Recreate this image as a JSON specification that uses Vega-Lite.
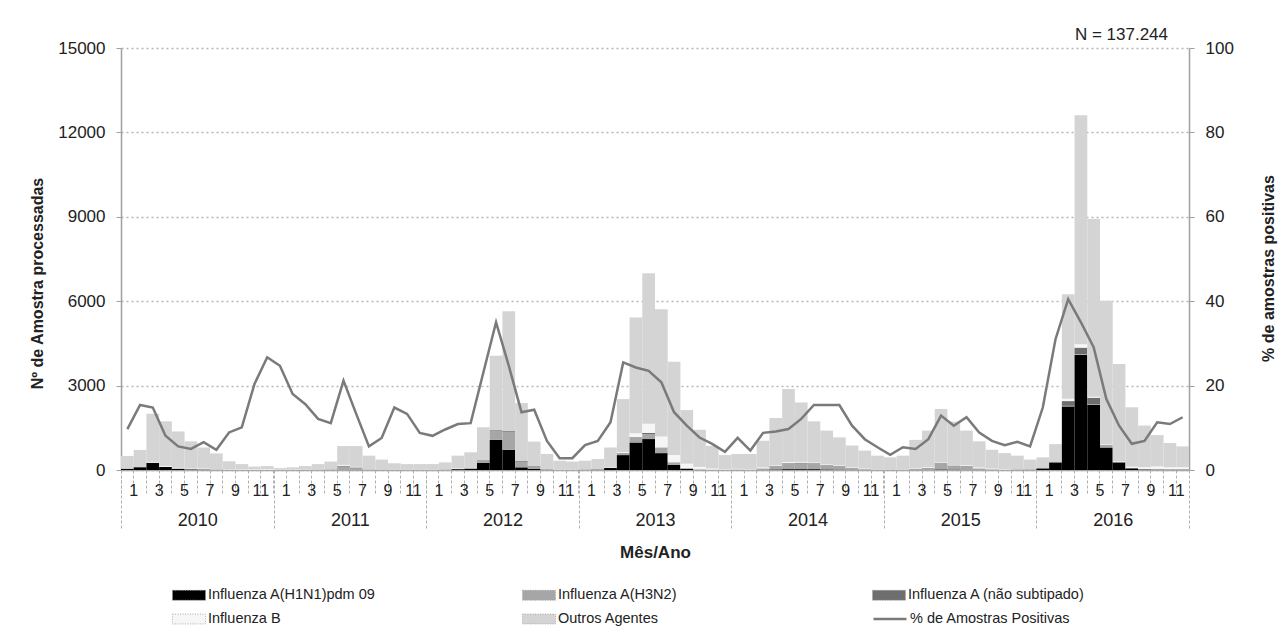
{
  "$schema": "https://vega.github.io/schema/vega-lite/v6.json",
  "width": 1068,
  "height": 422,
  "autosize": {"type": "none"},
  "padding": {"left": 121, "top": 48, "right": 96, "bottom": 172},
  "background": "white",
  "title": {"text": "N = 137.244", "anchor": "end", "frame": "group", "fontSize": 17, "fontWeight": "normal", "color": "#222222", "dx": -21, "dy": 30, "offset": 12, "baseline": "alphabetic"},
  "data": {"values": [
    {"mes": "2010-01", "ano": 2010, "a_h1n1": 45, "b_h3n2": 0, "c_anst": 0, "d_b": 0, "e_outros": 455, "pct": 9.7},
    {"mes": "2010-02", "ano": 2010, "a_h1n1": 100, "b_h3n2": 0, "c_anst": 0, "d_b": 0, "e_outros": 610, "pct": 15.4},
    {"mes": "2010-03", "ano": 2010, "a_h1n1": 260, "b_h3n2": 0, "c_anst": 0, "d_b": 30, "e_outros": 1710, "pct": 14.8},
    {"mes": "2010-04", "ano": 2010, "a_h1n1": 110, "b_h3n2": 0, "c_anst": 0, "d_b": 30, "e_outros": 1590, "pct": 8.1},
    {"mes": "2010-05", "ano": 2010, "a_h1n1": 50, "b_h3n2": 0, "c_anst": 0, "d_b": 27, "e_outros": 1293, "pct": 5.6},
    {"mes": "2010-06", "ano": 2010, "a_h1n1": 25, "b_h3n2": 0, "c_anst": 0, "d_b": 26, "e_outros": 969, "pct": 5.0},
    {"mes": "2010-07", "ano": 2010, "a_h1n1": 20, "b_h3n2": 0, "c_anst": 0, "d_b": 33, "e_outros": 747, "pct": 6.6},
    {"mes": "2010-08", "ano": 2010, "a_h1n1": 10, "b_h3n2": 0, "c_anst": 0, "d_b": 18, "e_outros": 562, "pct": 4.8},
    {"mes": "2010-09", "ano": 2010, "a_h1n1": 5, "b_h3n2": 0, "c_anst": 0, "d_b": 22, "e_outros": 283, "pct": 8.9},
    {"mes": "2010-10", "ano": 2010, "a_h1n1": 0, "b_h3n2": 0, "c_anst": 0, "d_b": 21, "e_outros": 189, "pct": 10.1},
    {"mes": "2010-11", "ano": 2010, "a_h1n1": 0, "b_h3n2": 0, "c_anst": 0, "d_b": 24, "e_outros": 96, "pct": 20.4},
    {"mes": "2010-12", "ano": 2010, "a_h1n1": 0, "b_h3n2": 10, "c_anst": 0, "d_b": 27, "e_outros": 103, "pct": 26.7},
    {"mes": "2011-01", "ano": 2011, "a_h1n1": 0, "b_h3n2": 0, "c_anst": 0, "d_b": 17, "e_outros": 53, "pct": 24.7},
    {"mes": "2011-02", "ano": 2011, "a_h1n1": 0, "b_h3n2": 0, "c_anst": 0, "d_b": 17, "e_outros": 78, "pct": 18.0},
    {"mes": "2011-03", "ano": 2011, "a_h1n1": 0, "b_h3n2": 10, "c_anst": 0, "d_b": 12, "e_outros": 118, "pct": 15.6},
    {"mes": "2011-04", "ano": 2011, "a_h1n1": 0, "b_h3n2": 15, "c_anst": 0, "d_b": 10, "e_outros": 185, "pct": 12.1},
    {"mes": "2011-05", "ano": 2011, "a_h1n1": 0, "b_h3n2": 25, "c_anst": 0, "d_b": 8, "e_outros": 267, "pct": 11.1},
    {"mes": "2011-06", "ano": 2011, "a_h1n1": 0, "b_h3n2": 120, "c_anst": 30, "d_b": 30, "e_outros": 670, "pct": 21.2},
    {"mes": "2011-07", "ano": 2011, "a_h1n1": 0, "b_h3n2": 80, "c_anst": 15, "d_b": 18, "e_outros": 737, "pct": 13.3},
    {"mes": "2011-08", "ano": 2011, "a_h1n1": 0, "b_h3n2": 20, "c_anst": 0, "d_b": 8, "e_outros": 482, "pct": 5.6},
    {"mes": "2011-09", "ano": 2011, "a_h1n1": 0, "b_h3n2": 18, "c_anst": 0, "d_b": 10, "e_outros": 342, "pct": 7.6},
    {"mes": "2011-10", "ano": 2011, "a_h1n1": 0, "b_h3n2": 20, "c_anst": 0, "d_b": 16, "e_outros": 204, "pct": 14.8},
    {"mes": "2011-11", "ano": 2011, "a_h1n1": 0, "b_h3n2": 15, "c_anst": 0, "d_b": 13, "e_outros": 182, "pct": 13.3},
    {"mes": "2011-12", "ano": 2011, "a_h1n1": 0, "b_h3n2": 8, "c_anst": 0, "d_b": 10, "e_outros": 192, "pct": 8.8},
    {"mes": "2012-01", "ano": 2012, "a_h1n1": 0, "b_h3n2": 5, "c_anst": 0, "d_b": 12, "e_outros": 193, "pct": 8.1},
    {"mes": "2012-02", "ano": 2012, "a_h1n1": 10, "b_h3n2": 0, "c_anst": 0, "d_b": 16, "e_outros": 244, "pct": 9.6},
    {"mes": "2012-03", "ano": 2012, "a_h1n1": 30, "b_h3n2": 10, "c_anst": 0, "d_b": 16, "e_outros": 454, "pct": 10.9},
    {"mes": "2012-04", "ano": 2012, "a_h1n1": 50, "b_h3n2": 10, "c_anst": 0, "d_b": 10, "e_outros": 560, "pct": 11.1},
    {"mes": "2012-05", "ano": 2012, "a_h1n1": 260, "b_h3n2": 70, "c_anst": 20, "d_b": 0, "e_outros": 1170, "pct": 23.1},
    {"mes": "2012-06", "ano": 2012, "a_h1n1": 1070, "b_h3n2": 330, "c_anst": 20, "d_b": 0, "e_outros": 2640, "pct": 35.0},
    {"mes": "2012-07", "ano": 2012, "a_h1n1": 720, "b_h3n2": 640, "c_anst": 30, "d_b": 0, "e_outros": 4250, "pct": 24.7},
    {"mes": "2012-08", "ano": 2012, "a_h1n1": 95, "b_h3n2": 200, "c_anst": 30, "d_b": 0, "e_outros": 2055, "pct": 13.7},
    {"mes": "2012-09", "ano": 2012, "a_h1n1": 35, "b_h3n2": 90, "c_anst": 20, "d_b": 0, "e_outros": 865, "pct": 14.3},
    {"mes": "2012-10", "ano": 2012, "a_h1n1": 10, "b_h3n2": 20, "c_anst": 0, "d_b": 10, "e_outros": 530, "pct": 6.9},
    {"mes": "2012-11", "ano": 2012, "a_h1n1": 0, "b_h3n2": 0, "c_anst": 0, "d_b": 9, "e_outros": 321, "pct": 2.8},
    {"mes": "2012-12", "ano": 2012, "a_h1n1": 0, "b_h3n2": 0, "c_anst": 0, "d_b": 8, "e_outros": 292, "pct": 2.8},
    {"mes": "2013-01", "ano": 2013, "a_h1n1": 10, "b_h3n2": 0, "c_anst": 0, "d_b": 10, "e_outros": 310, "pct": 5.9},
    {"mes": "2013-02", "ano": 2013, "a_h1n1": 17, "b_h3n2": 0, "c_anst": 0, "d_b": 10, "e_outros": 363, "pct": 6.9},
    {"mes": "2013-03", "ano": 2013, "a_h1n1": 70, "b_h3n2": 10, "c_anst": 0, "d_b": 10, "e_outros": 710, "pct": 11.3},
    {"mes": "2013-04", "ano": 2013, "a_h1n1": 530, "b_h3n2": 60, "c_anst": 20, "d_b": 30, "e_outros": 1880, "pct": 25.5},
    {"mes": "2013-05", "ano": 2013, "a_h1n1": 980, "b_h3n2": 150, "c_anst": 30, "d_b": 150, "e_outros": 4110, "pct": 24.3},
    {"mes": "2013-06", "ano": 2013, "a_h1n1": 1100, "b_h3n2": 180, "c_anst": 40, "d_b": 320, "e_outros": 5350, "pct": 23.5},
    {"mes": "2013-07", "ano": 2013, "a_h1n1": 600, "b_h3n2": 170, "c_anst": 30, "d_b": 390, "e_outros": 4520, "pct": 20.8},
    {"mes": "2013-08", "ano": 2013, "a_h1n1": 180, "b_h3n2": 70, "c_anst": 20, "d_b": 260, "e_outros": 3320, "pct": 13.7},
    {"mes": "2013-09", "ano": 2013, "a_h1n1": 45, "b_h3n2": 20, "c_anst": 0, "d_b": 160, "e_outros": 1905, "pct": 10.5},
    {"mes": "2013-10", "ano": 2013, "a_h1n1": 10, "b_h3n2": 10, "c_anst": 0, "d_b": 90, "e_outros": 1320, "pct": 7.7},
    {"mes": "2013-11", "ano": 2013, "a_h1n1": 5, "b_h3n2": 5, "c_anst": 0, "d_b": 43, "e_outros": 807, "pct": 6.2},
    {"mes": "2013-12", "ano": 2013, "a_h1n1": 0, "b_h3n2": 5, "c_anst": 0, "d_b": 18, "e_outros": 507, "pct": 4.3},
    {"mes": "2014-01", "ano": 2014, "a_h1n1": 0, "b_h3n2": 20, "c_anst": 0, "d_b": 23, "e_outros": 527, "pct": 7.6},
    {"mes": "2014-02", "ano": 2014, "a_h1n1": 0, "b_h3n2": 10, "c_anst": 0, "d_b": 16, "e_outros": 544, "pct": 4.6},
    {"mes": "2014-03", "ano": 2014, "a_h1n1": 10, "b_h3n2": 50, "c_anst": 0, "d_b": 31, "e_outros": 949, "pct": 8.8},
    {"mes": "2014-04", "ano": 2014, "a_h1n1": 20, "b_h3n2": 110, "c_anst": 20, "d_b": 20, "e_outros": 1680, "pct": 9.1},
    {"mes": "2014-05", "ano": 2014, "a_h1n1": 30, "b_h3n2": 180, "c_anst": 30, "d_b": 40, "e_outros": 2600, "pct": 9.7},
    {"mes": "2014-06", "ano": 2014, "a_h1n1": 30, "b_h3n2": 200, "c_anst": 30, "d_b": 30, "e_outros": 2110, "pct": 12.1},
    {"mes": "2014-07", "ano": 2014, "a_h1n1": 30, "b_h3n2": 180, "c_anst": 30, "d_b": 25, "e_outros": 1465, "pct": 15.4},
    {"mes": "2014-08", "ano": 2014, "a_h1n1": 20, "b_h3n2": 150, "c_anst": 20, "d_b": 25, "e_outros": 1185, "pct": 15.4},
    {"mes": "2014-09", "ano": 2014, "a_h1n1": 15, "b_h3n2": 120, "c_anst": 20, "d_b": 24, "e_outros": 981, "pct": 15.4},
    {"mes": "2014-10", "ano": 2014, "a_h1n1": 10, "b_h3n2": 60, "c_anst": 0, "d_b": 21, "e_outros": 779, "pct": 10.5},
    {"mes": "2014-11", "ano": 2014, "a_h1n1": 0, "b_h3n2": 30, "c_anst": 0, "d_b": 20, "e_outros": 640, "pct": 7.3},
    {"mes": "2014-12", "ano": 2014, "a_h1n1": 0, "b_h3n2": 15, "c_anst": 0, "d_b": 13, "e_outros": 482, "pct": 5.4},
    {"mes": "2015-01", "ano": 2015, "a_h1n1": 0, "b_h3n2": 10, "c_anst": 0, "d_b": 6, "e_outros": 434, "pct": 3.6},
    {"mes": "2015-02", "ano": 2015, "a_h1n1": 0, "b_h3n2": 15, "c_anst": 0, "d_b": 13, "e_outros": 482, "pct": 5.4},
    {"mes": "2015-03", "ano": 2015, "a_h1n1": 0, "b_h3n2": 35, "c_anst": 0, "d_b": 18, "e_outros": 1017, "pct": 5.0},
    {"mes": "2015-04", "ano": 2015, "a_h1n1": 0, "b_h3n2": 80, "c_anst": 0, "d_b": 22, "e_outros": 1298, "pct": 7.3},
    {"mes": "2015-05", "ano": 2015, "a_h1n1": 20, "b_h3n2": 220, "c_anst": 20, "d_b": 20, "e_outros": 1890, "pct": 12.9},
    {"mes": "2015-06", "ano": 2015, "a_h1n1": 15, "b_h3n2": 140, "c_anst": 10, "d_b": 15, "e_outros": 1540, "pct": 10.5},
    {"mes": "2015-07", "ano": 2015, "a_h1n1": 10, "b_h3n2": 130, "c_anst": 10, "d_b": 25, "e_outros": 1225, "pct": 12.5},
    {"mes": "2015-08", "ano": 2015, "a_h1n1": 0, "b_h3n2": 60, "c_anst": 0, "d_b": 31, "e_outros": 929, "pct": 8.9},
    {"mes": "2015-09", "ano": 2015, "a_h1n1": 0, "b_h3n2": 25, "c_anst": 0, "d_b": 25, "e_outros": 670, "pct": 6.9},
    {"mes": "2015-10", "ano": 2015, "a_h1n1": 0, "b_h3n2": 15, "c_anst": 0, "d_b": 20, "e_outros": 565, "pct": 5.9},
    {"mes": "2015-11", "ano": 2015, "a_h1n1": 10, "b_h3n2": 10, "c_anst": 0, "d_b": 15, "e_outros": 475, "pct": 6.7},
    {"mes": "2015-12", "ano": 2015, "a_h1n1": 10, "b_h3n2": 5, "c_anst": 0, "d_b": 6, "e_outros": 349, "pct": 5.6},
    {"mes": "2016-01", "ano": 2016, "a_h1n1": 60, "b_h3n2": 0, "c_anst": 0, "d_b": 7, "e_outros": 383, "pct": 14.8},
    {"mes": "2016-02", "ano": 2016, "a_h1n1": 270, "b_h3n2": 0, "c_anst": 10, "d_b": 5, "e_outros": 635, "pct": 31.0},
    {"mes": "2016-03", "ano": 2016, "a_h1n1": 2260, "b_h3n2": 20, "c_anst": 170, "d_b": 80, "e_outros": 3720, "pct": 40.5},
    {"mes": "2016-04", "ano": 2016, "a_h1n1": 4090, "b_h3n2": 30, "c_anst": 230, "d_b": 120, "e_outros": 8140, "pct": 35.0},
    {"mes": "2016-05", "ano": 2016, "a_h1n1": 2320, "b_h3n2": 20, "c_anst": 230, "d_b": 30, "e_outros": 6320, "pct": 29.1},
    {"mes": "2016-06", "ano": 2016, "a_h1n1": 800, "b_h3n2": 40, "c_anst": 40, "d_b": 30, "e_outros": 5110, "pct": 16.8},
    {"mes": "2016-07", "ano": 2016, "a_h1n1": 270, "b_h3n2": 30, "c_anst": 0, "d_b": 20, "e_outros": 3450, "pct": 10.5},
    {"mes": "2016-08", "ano": 2016, "a_h1n1": 60, "b_h3n2": 20, "c_anst": 0, "d_b": 40, "e_outros": 2110, "pct": 6.2},
    {"mes": "2016-09", "ano": 2016, "a_h1n1": 20, "b_h3n2": 20, "c_anst": 0, "d_b": 60, "e_outros": 1480, "pct": 6.9},
    {"mes": "2016-10", "ano": 2016, "a_h1n1": 10, "b_h3n2": 30, "c_anst": 0, "d_b": 90, "e_outros": 1110, "pct": 11.3},
    {"mes": "2016-11", "ano": 2016, "a_h1n1": 10, "b_h3n2": 20, "c_anst": 0, "d_b": 70, "e_outros": 860, "pct": 10.9},
    {"mes": "2016-12", "ano": 2016, "a_h1n1": 10, "b_h3n2": 20, "c_anst": 0, "d_b": 70, "e_outros": 740, "pct": 12.5}
  ]},
  "layer": [
    {
      "transform": [{"fold": ["a_h1n1", "b_h3n2", "c_anst", "d_b", "e_outros"], "as": ["tipo", "n"]}],
      "mark": {"type": "bar", "width": {"band": 1}},
      "encoding": {
        "x": {"field": "mes", "type": "ordinal", "scale": {"paddingInner": 0, "paddingOuter": 0},
          "axis": {"orient": "bottom", "title": null, "bandPosition": 0, "tickSize": 25, "tickDash": [3, 2], "tickColor": "#b0b0b0", "tickWidth": 1, "domain": true, "domainColor": "#a8a8a8", "domainWidth": 1.5, "labelAngle": 0, "labelOffset": 6.36, "labelExpr": "toNumber(substring(datum.value,5,7)) % 2 == 1 ? '' + toNumber(substring(datum.value,5,7)) : ''", "labelFontSize": 16, "labelColor": "#222222", "labelPadding": -13, "labelOverlap": false, "grid": false}},
        "y": {"field": "n", "type": "quantitative", "stack": "zero", "scale": {"domain": [0, 15000], "nice": false},
          "axis": {"title": "Nº de Amostra processadas", "values": [0, 3000, 6000, 9000, 12000, 15000], "format": "d", "grid": true, "gridDash": [2, 3], "gridColor": "#b5b5b5", "gridWidth": 1.5, "domainColor": "#a0a0a0", "domainWidth": 1.5, "tickSize": 5, "tickColor": "#a0a0a0", "labelFontSize": 17, "labelPadding": 11, "labelColor": "#222222", "titleFontSize": 16, "titleFontWeight": "bold", "titlePadding": 12, "titleY": 235, "titleColor": "#222222"}},
        "color": {"field": "tipo", "type": "nominal",
          "scale": {"domain": ["a_h1n1", "b_h3n2", "c_anst", "d_b", "e_outros"], "range": ["#000000", "#a6a6a6", "#6e6e6e", "#f6f6f6", "#d4d4d4"]},
          "legend": {"orient": "none", "legendX": 51, "legendY": 530, "direction": "horizontal", "columns": 3, "gridAlign": "all", "columnPadding": 130, "rowPadding": -9, "symbolType": "M-1,-0.3H1V0.3H-1Z", "symbolSize": 1089, "symbolStrokeColor": "#9a9a9a", "symbolStrokeWidth": 0.8, "symbolDash": [1, 1.5], "labelFont": "Liberation Sans", "labelFontSize": 14.5, "labelLimit": 400, "labelOffset": 2, "labelColor": "#222222", "title": null,
            "labelExpr": "datum.value == 'a_h1n1' ? 'Influenza A(H1N1)pdm 09' : datum.value == 'b_h3n2' ? 'Influenza A(H3N2)' : datum.value == 'c_anst' ? 'Influenza A  (não subtipado)' : datum.value == 'd_b' ? 'Influenza B' : 'Outros Agentes'"}},
        "order": {"field": "tipo", "type": "nominal", "sort": "ascending"}
      }
    },
    {
      "mark": {"type": "line", "strokeWidth": 2.5},
      "encoding": {
        "x": {"field": "mes", "type": "ordinal", "axis": null},
        "y": {"field": "pct", "type": "quantitative", "scale": {"domain": [0, 100], "nice": false},
          "axis": {"orient": "right", "title": "% de amostras positivas", "titleAngle": -90, "values": [0, 20, 40, 60, 80, 100], "grid": false, "domainColor": "#a0a0a0", "domainWidth": 1.5, "tickSize": 5, "tickColor": "#a0a0a0", "labelFontSize": 17, "labelPadding": 11, "labelColor": "#222222", "titleFontSize": 16, "titleFontWeight": "bold", "titlePadding": 43, "titleY": 220, "titleColor": "#222222"}},
        "stroke": {"datum": "% de Amostras Positivas", "scale": {"range": ["#7a7a7a"]},
          "legend": {"orient": "none", "legendX": 751, "legendY": 553, "symbolType": "stroke", "symbolSize": 1089, "symbolStrokeWidth": 2.5, "labelFont": "Liberation Sans", "labelFontSize": 14.5, "labelLimit": 400, "labelOffset": 2, "labelColor": "#222222", "title": null}}
      }
    },
    {
      "mark": {"type": "rule", "opacity": 0},
      "encoding": {
        "x": {"field": "ano", "type": "quantitative", "scale": {"domain": [2010, 2017], "nice": false, "zero": false},
          "axis": {"orient": "bottom", "title": "Mês/Ano", "values": [2010, 2011, 2012, 2013, 2014, 2015, 2016, 2017], "format": "d", "labelExpr": "datum.value < 2017 ? datum.label : ''", "labelOffset": 76.29, "labelFlush": false, "labelOverlap": false, "labelBound": false, "tickSize": 60, "tickDash": [3, 2], "tickColor": "#b0b0b0", "tickWidth": 1, "domain": false, "grid": false, "labelFontSize": 18, "labelPadding": -19, "labelColor": "#222222", "titleFontSize": 17, "titleFontWeight": "bold", "titlePadding": 14, "titleColor": "#222222"}}
      }
    }
  ],
  "resolve": {"scale": {"x": "independent", "y": "independent"}},
  "config": {
    "font": "Liberation Sans",
    "view": {"stroke": null}
  }
}
